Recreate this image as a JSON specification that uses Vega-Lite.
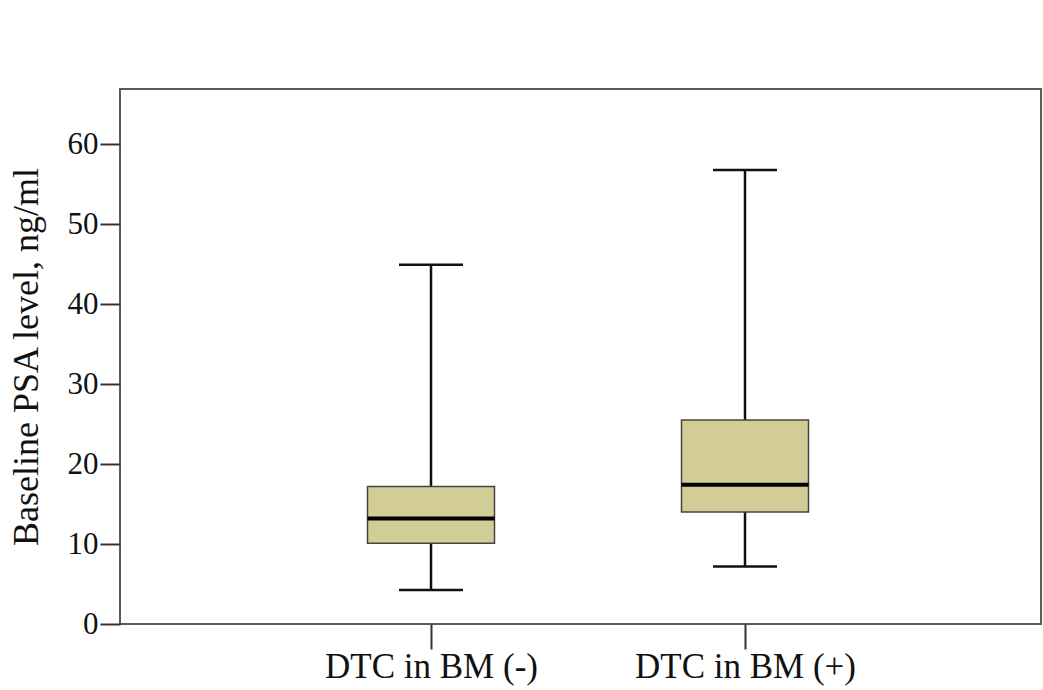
{
  "$schema": "https://vega.github.io/schema/vega-lite/v6.json",
  "autosize": "none",
  "width": 921,
  "height": 535,
  "padding": {"left": 120, "top": 89, "right": 2, "bottom": 66},
  "background": "white",
  "config": {
    "view": {"stroke": "#5a5a5a", "strokeWidth": 2},
    "font": "Liberation Serif"
  },
  "data": {
    "values": [
      {"group": "DTC in BM (-)", "lower": 4.25, "q1": 10.1, "median": 13.2, "q3": 17.2, "upper": 44.9},
      {"group": "DTC in BM (+)", "lower": 7.2, "q1": 14.0, "median": 17.4, "q3": 25.5, "upper": 56.75}
    ]
  },
  "encoding": {
    "x": {
      "field": "group",
      "type": "nominal",
      "sort": null,
      "scale": {"type": "point", "range": [311, 625], "padding": 0},
      "axis": {
        "title": null,
        "labelAngle": 0,
        "labelLimit": 0,
        "domain": false,
        "tickSize": 25,
        "tickColor": "#333",
        "tickWidth": 2,
        "labelFont": "Liberation Serif",
        "labelFontSize": 35,
        "labelColor": "#111",
        "labelPadding": 0
      }
    }
  },
  "layer": [
    {
      "mark": {"type": "rule", "color": "#111", "strokeWidth": 2.5},
      "encoding": {
        "y": {
          "field": "lower",
          "type": "quantitative",
          "scale": {"domain": [0, 66.875], "nice": false, "zero": true},
          "axis": {
            "title": "Baseline PSA level, ng/ml",
            "titleFont": "Liberation Serif",
            "titleFontSize": 36,
            "titleFontWeight": "normal",
            "titleColor": "#111",
            "titlePadding": 22,
            "values": [0, 10, 20, 30, 40, 50, 60],
            "grid": false,
            "domain": false,
            "tickSize": 20,
            "tickColor": "#333",
            "tickWidth": 2,
            "labelFont": "Liberation Serif",
            "labelFontSize": 31,
            "labelColor": "#111",
            "labelPadding": 2
          }
        },
        "y2": {"field": "upper"}
      }
    },
    {
      "mark": {"type": "bar", "width": 127, "fill": "#D2CC97", "stroke": "#444", "strokeWidth": 1.5},
      "encoding": {
        "y": {"field": "q1", "type": "quantitative"},
        "y2": {"field": "q3"}
      }
    },
    {
      "mark": {"type": "tick", "size": 127, "thickness": 4, "color": "#000", "opacity": 1},
      "encoding": {"y": {"field": "median", "type": "quantitative"}}
    },
    {
      "mark": {"type": "tick", "size": 64, "thickness": 2.5, "color": "#111", "opacity": 1},
      "encoding": {"y": {"field": "lower", "type": "quantitative"}}
    },
    {
      "mark": {"type": "tick", "size": 64, "thickness": 2.5, "color": "#111", "opacity": 1},
      "encoding": {"y": {"field": "upper", "type": "quantitative"}}
    }
  ]
}
